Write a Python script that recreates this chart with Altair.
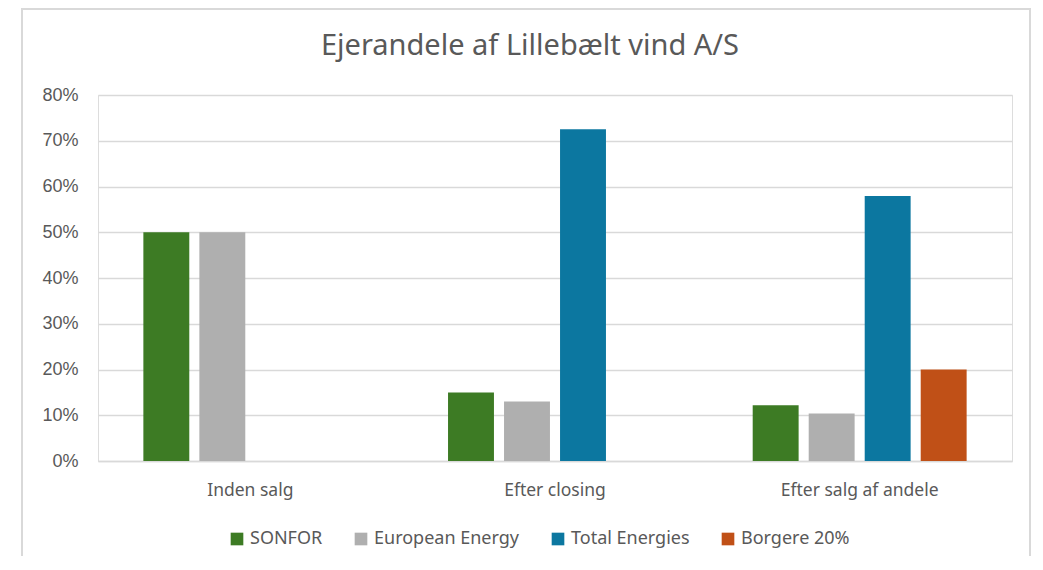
import altair as alt
import pandas as pd

categories = ["Inden salg", "Efter closing", "Efter salg af andele"]
series = ["SONFOR", "European Energy", "Total Energies", "Borgere 20%"]
colors = ["#3d7b24", "#afafaf", "#0c77a0", "#c05017"]

sonfor = [0.50, 0.15, 0.122]
european = [0.50, 0.13, 0.104]
total = [None, 0.725, 0.579]
borgere = [None, None, 0.20]

rows = []
for s, vals in zip(series, [sonfor, european, total, borgere]):
    for c, v in zip(categories, vals):
        if v is not None:
            rows.append({"Kategori": c, "Ejer": s, "Andel": v})
df = pd.DataFrame(rows)

FONT = "Noto Sans"
NUMFONT = "Liberation Sans"
GREY = "#595959"

bars = alt.Chart(df).mark_bar().encode(
    x=alt.X("Kategori:N", sort=categories,
            scale=alt.Scale(paddingInner=0, paddingOuter=0),
            axis=alt.Axis(title=None, labelAngle=0, labelFontSize=17.5, labelColor=GREY,
                          labelFont=FONT, ticks=False, domainColor="#d9d9d9",
                          domainWidth=1.5, labelPadding=20)),
    xOffset=alt.XOffset("Ejer:N", sort=series,
                        scale=alt.Scale(domain=series, paddingInner=0.18, paddingOuter=0.81)),
    y=alt.Y("Andel:Q", scale=alt.Scale(domain=[0, 0.8]),
            axis=alt.Axis(title=None, format=".0%", values=[0, .1, .2, .3, .4, .5, .6, .7, .8],
                          labelFontSize=18, labelColor=GREY, labelFont=NUMFONT,
                          domain=False, ticks=False, labelPadding=20,
                          gridColor="#d9d9d9", gridWidth=1.5)),
    color=alt.Color("Ejer:N", sort=series,
                    scale=alt.Scale(domain=series, range=colors),
                    legend=alt.Legend(title=None, orient="none", direction="horizontal",
                                      legendX=130, legendY=435, symbolType="square",
                                      symbolSize=160, symbolStrokeWidth=0,
                                      labelFontSize=18, labelColor=GREY, labelFont=FONT,
                                      labelOffset=4, columnPadding=29)),
)

border = alt.Chart(df).mark_rect(fill=None, stroke="#d9d9d9", strokeWidth=1.5, clip=False).encode(
    x=alt.value(-76), x2=alt.value(932), y=alt.value(-86), y2=alt.value(472)
)

chart = alt.layer(border, bars).properties(
    width=914, height=366,
    title=alt.TitleParams("Ejerandele af Lillebælt vind A/S", fontSize=29, color=GREY,
                          font=FONT, fontWeight="normal", anchor="middle", dx=-25,
                          baseline="alphabetic", offset=-76),
    padding={"left": 90, "top": 87, "right": 23, "bottom": 95},
    autosize=alt.AutoSizeParams(type="none"),
).configure_view(stroke=None).configure(background="white")

chart.save("out.html", embed_options={"renderer": "svg", "actions": False})
